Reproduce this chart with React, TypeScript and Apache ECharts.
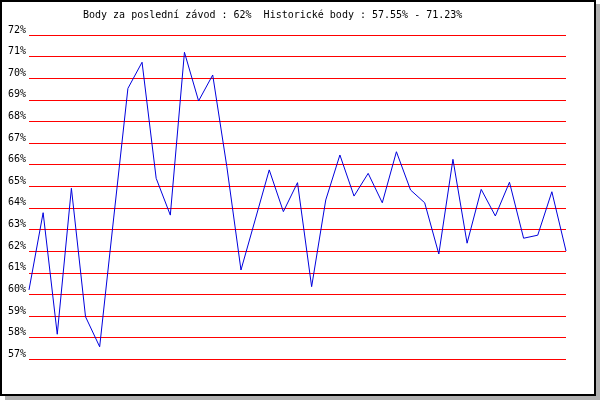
import React, { useEffect, useRef } from "react";
import * as echarts from "echarts";

const titleText = "Body za poslední závod : 62%  Historické body : 57.55% - 71.23%";

const raceIndex: number[] = Array.from({ length: 39 }, (_, i) => i + 1);

const points: number[] = [
  60.21, 63.78, 58.16, 64.91, 58.97, 57.58, 63.58, 69.53, 70.74, 65.37,
  63.67, 71.2, 68.95, 70.15, 65.91, 61.13, 63.44, 65.76, 63.83, 65.17,
  60.36, 64.37, 66.45, 64.55, 65.6, 64.24, 66.6, 64.83, 64.24, 61.87,
  66.25, 62.37, 64.86, 63.63, 65.19, 62.6, 62.74, 64.75, 62.01,
];

const yMin = 57;
const yMax = 72;
const yStep = 1;

export default function App() {
  const ref = useRef<HTMLDivElement>(null);

  useEffect(() => {
    if (!ref.current) return;
    const chart = echarts.init(ref.current, null, { renderer: "svg" });
    const mono = "'DejaVu Sans Mono', 'Liberation Mono', monospace";
    chart.setOption({
      animation: false,
      backgroundColor: "transparent",
      graphic: [
        {
          type: "rect",
          z: -10,
          shape: { x: 5, y: 4, width: 595, height: 396 },
          style: { fill: "#b0b0b0" },
          silent: true,
        },
        {
          type: "rect",
          z: -9,
          shape: { x: 1, y: 1, width: 594, height: 394 },
          style: { fill: "#ffffff", stroke: "#000000", lineWidth: 2 },
          silent: true,
        },
      ],
      title: {
        text: titleText,
        left: 83,
        top: 8,
        padding: 0,
        textStyle: {
          fontFamily: mono,
          fontSize: 10,
          fontWeight: "normal",
          color: "#000000",
          lineHeight: 12,
        },
      },
      grid: { left: 29, right: 34, top: 35, bottom: 40.7, containLabel: false },
      xAxis: {
        type: "category",
        data: raceIndex,
        boundaryGap: false,
        axisLine: { show: false },
        axisTick: { show: false },
        axisLabel: { show: false },
        splitLine: { show: false },
      },
      yAxis: {
        type: "value",
        min: yMin,
        max: yMax,
        interval: yStep,
        axisLine: { show: false },
        axisTick: { show: false },
        axisLabel: {
          formatter: (v: number) => `${v}%`,
          fontFamily: mono,
          fontSize: 10,
          color: "#000000",
          margin: 3,
          verticalAlign: "bottom",
          lineHeight: 12,
        },
        splitLine: { show: true, lineStyle: { color: "#ff0000", width: 1, type: "solid" } },
      },
      series: [
        {
          type: "line",
          data: points,
          symbol: "none",
          lineStyle: { color: "#0000dd", width: 1 },
          itemStyle: { color: "#0000dd" },
        },
      ],
    });
    return () => chart.dispose();
  }, []);

  return (
    <div
      ref={ref}
      style={{ position: "fixed", left: 0, top: 0, width: 600, height: 400 }}
    />
  );
}
